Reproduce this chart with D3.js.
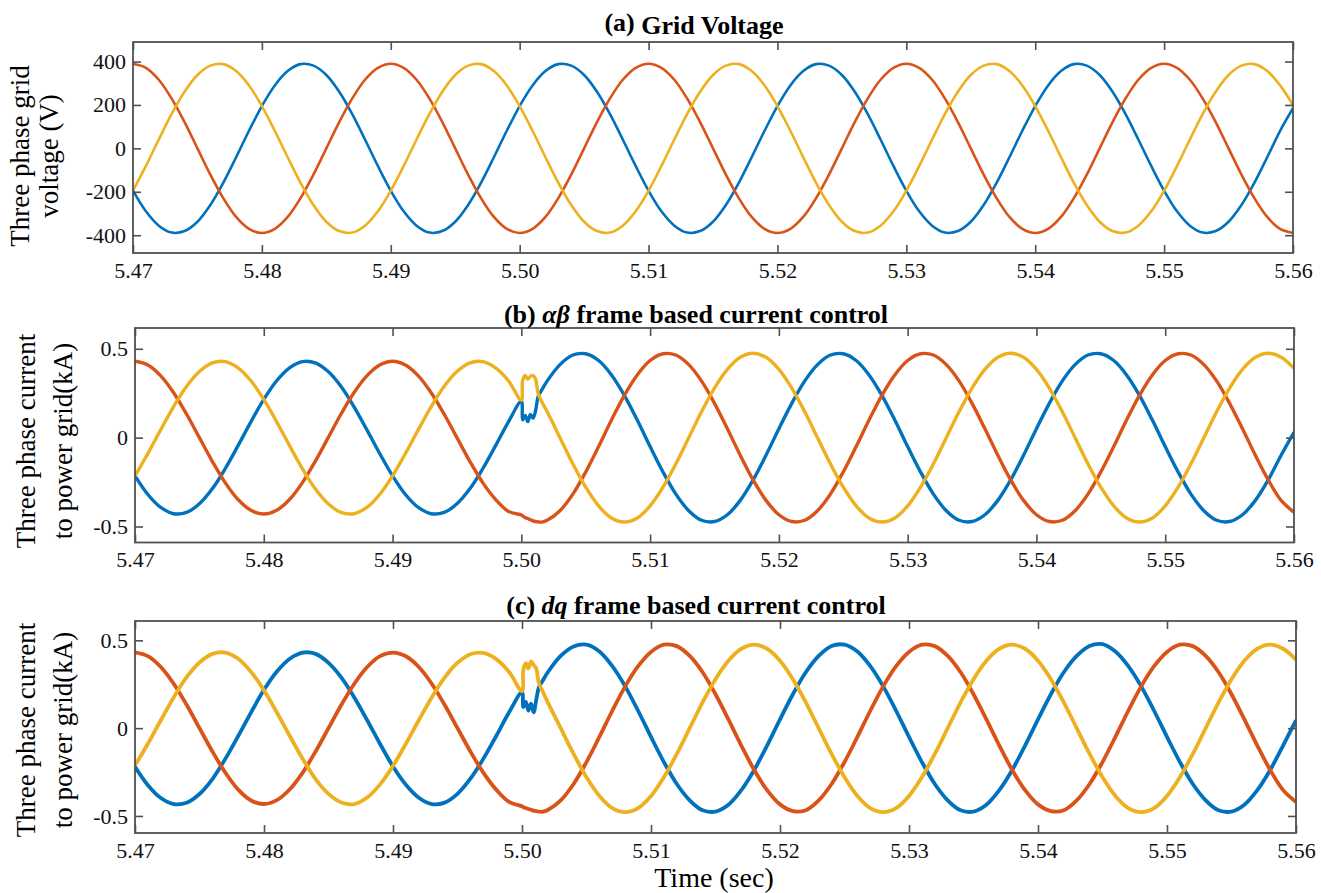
<!DOCTYPE html>
<html>
<head>
<meta charset="utf-8">
<script src="https://cdn.jsdelivr.net/npm/d3@7"></script>
<style>
body{margin:0;background:#fff;}
svg{display:block;font-family:'Times New Roman','Liberation Serif',Tinos,Times,serif;}
svg text{font-family:'Times New Roman','Liberation Serif',Tinos,Times,serif;}
</style>
</head>
<body>
<div id="chart"></div>
<script>
// ---- data ----
var xTicks = [5.47,5.48,5.49,5.50,5.51,5.52,5.53,5.54,5.55,5.56];
var voltTicks = [-400,-200,0,200,400];
var curTicks = [-0.5,0,0.5];

// sample times, grid voltage
var timeV = [5.470,5.471,5.472,5.473,5.474,5.475,5.476,5.477,5.478,5.479,
  5.480,5.481,5.482,5.483,5.484,5.485,5.486,5.487,5.488,5.489,
  5.490,5.491,5.492,5.493,5.494,5.495,5.496,5.497,5.498,5.499,
  5.500,5.501,5.502,5.503,5.504,5.505,5.506,5.507,5.508,5.509,
  5.510,5.511,5.512,5.513,5.514,5.515,5.516,5.517,5.518,5.519,
  5.520,5.521,5.522,5.523,5.524,5.525,5.526,5.527,5.528,5.529,
  5.530,5.531,5.532,5.533,5.534,5.535,5.536,5.537,5.538,5.539,
  5.540,5.541,5.542,5.543,5.544,5.545,5.546,5.547,5.548,5.549,
  5.550,5.551,5.552,5.553,5.554,5.555,5.556,5.557,5.558,5.559,5.560];

var voltBlue = [-195,-290,-356,-388,-381,-338,-261,-159,-41,81,195,290,356,388,381,338,261,159,41,-81,
  -195,-290,-356,-388,-381,-338,-261,-159,-41,81,195,290,356,388,381,338,261,159,41,-81,
  -195,-290,-356,-388,-381,-338,-261,-159,-41,81,195,290,356,388,381,338,261,159,41,-81,
  -195,-290,-356,-388,-381,-338,-261,-159,-41,81,195,290,356,388,381,338,261,159,41,-81,
  -195,-290,-356,-388,-381,-338,-261,-159,-41,81,185];
var voltRed = [390,371,316,229,121,0,-121,-229,-316,-371,-390,-371,-316,-229,-121,0,121,229,316,371,
  390,371,316,229,121,0,-121,-229,-316,-371,-390,-371,-316,-229,-121,0,121,229,316,371,
  390,371,316,229,121,0,-121,-229,-316,-371,-390,-371,-316,-229,-121,0,121,229,316,371,
  390,371,316,229,121,0,-121,-229,-316,-371,-390,-371,-316,-229,-121,0,121,229,316,371,
  390,371,316,229,121,0,-121,-229,-316,-371,-390];
var voltYellow = [-195,-81,41,159,261,338,381,388,356,290,195,81,-41,-159,-261,-338,-381,-388,-356,-290,
  -195,-81,41,159,261,338,381,388,356,290,195,81,-41,-159,-261,-338,-381,-388,-356,-290,
  -195,-81,41,159,261,338,381,388,356,290,195,81,-41,-159,-261,-338,-381,-388,-356,-290,
  -195,-81,41,159,261,338,381,388,356,290,195,81,-41,-159,-261,-338,-381,-388,-356,-290,
  -195,-81,41,159,261,338,381,388,356,290,200];

// sample times, currents (denser around the step at 5.50)
var timeI = [5.470,5.471,5.472,5.473,5.474,5.475,5.476,5.477,5.478,5.479,
  5.480,5.481,5.482,5.483,5.484,5.485,5.486,5.487,5.488,5.489,
  5.490,5.491,5.492,5.493,5.494,5.495,5.496,5.497,5.498,5.499,5.500,
  5.5001,5.5003,5.5005,5.5007,5.5009,5.5011,5.5013,5.5016,
  5.502,5.503,5.504,5.505,5.506,5.507,5.508,5.509,
  5.510,5.511,5.512,5.513,5.514,5.515,5.516,5.517,5.518,5.519,
  5.520,5.521,5.522,5.523,5.524,5.525,5.526,5.527,5.528,5.529,
  5.530,5.531,5.532,5.533,5.534,5.535,5.536,5.537,5.538,5.539,
  5.540,5.541,5.542,5.543,5.544,5.545,5.546,5.547,5.548,5.549,
  5.550,5.551,5.552,5.553,5.554,5.555,5.556,5.557,5.558,5.559,5.560];

// (b) alpha-beta frame
var abBlue = [-0.215,-0.320,-0.393,-0.428,-0.421,-0.372,-0.288,-0.175,-0.045,0.089,
  0.215,0.320,0.393,0.428,0.421,0.372,0.288,0.175,0.045,-0.089,
  -0.215,-0.320,-0.393,-0.428,-0.421,-0.372,-0.288,-0.175,-0.045,0.089,0.205,
  0.10,0.125,0.09,0.13,0.11,0.15,0.23,0.27,
  0.318,0.411,0.465,0.472,0.434,0.353,0.238,0.099,
  -0.050,-0.193,-0.318,-0.411,-0.465,-0.472,-0.434,-0.353,-0.238,-0.099,0.050,0.193,0.318,0.411,0.465,0.472,0.434,0.353,0.238,0.099,
  -0.050,-0.193,-0.318,-0.411,-0.465,-0.472,-0.434,-0.353,-0.238,-0.099,0.050,0.193,0.318,0.411,0.465,0.472,0.434,0.353,0.238,0.099,
  -0.050,-0.193,-0.318,-0.411,-0.465,-0.472,-0.434,-0.353,-0.238,-0.099,0.030];
var abRed = [0.430,0.409,0.348,0.253,0.133,0,-0.133,-0.253,-0.348,-0.409,
  -0.430,-0.409,-0.348,-0.253,-0.133,0,0.133,0.253,0.348,0.409,
  0.430,0.409,0.348,0.253,0.133,0,-0.133,-0.253,-0.348,-0.415,-0.435,
  -0.44,-0.45,-0.455,-0.462,-0.468,-0.472,-0.474,-0.475,
  -0.465,-0.411,-0.318,-0.193,-0.050,0.099,0.238,0.353,
  0.434,0.472,0.465,0.411,0.318,0.193,0.050,-0.099,-0.238,-0.353,-0.434,-0.472,-0.465,-0.411,-0.318,-0.193,-0.050,0.099,0.238,0.353,
  0.434,0.472,0.465,0.411,0.318,0.193,0.050,-0.099,-0.238,-0.353,-0.434,-0.472,-0.465,-0.411,-0.318,-0.193,-0.050,0.099,0.238,0.353,
  0.434,0.472,0.465,0.411,0.318,0.193,0.050,-0.099,-0.238,-0.353,-0.420];
var abYellow = [-0.215,-0.089,0.045,0.175,0.288,0.372,0.421,0.428,0.393,0.320,
  0.215,0.089,-0.045,-0.175,-0.288,-0.372,-0.421,-0.428,-0.393,-0.320,
  -0.215,-0.089,0.045,0.175,0.288,0.372,0.421,0.428,0.393,0.320,0.210,
  0.32,0.35,0.33,0.345,0.35,0.33,0.25,0.20,
  0.147,0,-0.147,-0.279,-0.384,-0.452,-0.475,-0.452,
  -0.384,-0.279,-0.147,0,0.147,0.279,0.384,0.452,0.475,0.452,0.384,0.279,0.147,0,-0.147,-0.279,-0.384,-0.452,-0.475,-0.452,
  -0.384,-0.279,-0.147,0,0.147,0.279,0.384,0.452,0.475,0.452,0.384,0.279,0.147,0,-0.147,-0.279,-0.384,-0.452,-0.475,-0.452,
  -0.384,-0.279,-0.147,0,0.147,0.279,0.384,0.452,0.475,0.452,0.390];

// (c) dq frame
var dqBlue = [-0.220,-0.325,-0.398,-0.432,-0.425,-0.375,-0.290,-0.175,-0.045,0.090,
  0.218,0.322,0.395,0.430,0.423,0.372,0.288,0.175,0.045,-0.090,
  -0.218,-0.322,-0.396,-0.432,-0.424,-0.374,-0.288,-0.175,-0.045,0.090,0.205,
  0.12,0.15,0.10,0.14,0.09,0.16,0.23,0.27,
  0.318,0.411,0.465,0.475,0.436,0.353,0.238,0.099,
  -0.050,-0.193,-0.318,-0.411,-0.468,-0.475,-0.436,-0.353,-0.238,-0.099,0.050,0.193,0.318,0.411,0.468,0.475,0.436,0.353,0.238,0.099,
  -0.050,-0.193,-0.318,-0.411,-0.468,-0.475,-0.436,-0.353,-0.238,-0.099,0.050,0.193,0.318,0.411,0.468,0.478,0.436,0.353,0.238,0.099,
  -0.050,-0.193,-0.318,-0.411,-0.468,-0.475,-0.436,-0.353,-0.238,-0.099,0.045];
var dqRed = [0.432,0.410,0.348,0.253,0.133,0,-0.133,-0.253,-0.350,-0.412,
  -0.432,-0.410,-0.348,-0.253,-0.133,0,0.133,0.253,0.348,0.410,
  0.430,0.409,0.348,0.253,0.133,0,-0.133,-0.253,-0.350,-0.420,-0.445,
  -0.45,-0.455,-0.46,-0.465,-0.47,-0.473,-0.475,-0.476,
  -0.466,-0.411,-0.318,-0.193,-0.050,0.099,0.238,0.353,
  0.434,0.475,0.467,0.411,0.318,0.193,0.050,-0.099,-0.238,-0.353,-0.434,-0.472,-0.467,-0.411,-0.318,-0.193,-0.050,0.099,0.238,0.353,
  0.434,0.475,0.467,0.411,0.318,0.193,0.050,-0.099,-0.238,-0.353,-0.434,-0.472,-0.467,-0.411,-0.318,-0.193,-0.050,0.099,0.238,0.353,
  0.434,0.475,0.467,0.411,0.318,0.193,0.050,-0.099,-0.238,-0.353,-0.420];
var dqYellow = [-0.212,-0.089,0.045,0.175,0.290,0.374,0.423,0.430,0.395,0.320,
  0.215,0.089,-0.045,-0.175,-0.290,-0.374,-0.423,-0.432,-0.395,-0.320,
  -0.215,-0.089,0.045,0.175,0.288,0.372,0.421,0.428,0.393,0.320,0.210,
  0.33,0.37,0.34,0.38,0.36,0.34,0.26,0.21,
  0.147,0,-0.147,-0.279,-0.386,-0.455,-0.478,-0.455,
  -0.386,-0.279,-0.147,0,0.147,0.279,0.384,0.452,0.475,0.452,0.384,0.279,0.147,0,-0.147,-0.279,-0.386,-0.455,-0.478,-0.455,
  -0.386,-0.279,-0.147,0,0.147,0.279,0.384,0.452,0.475,0.452,0.384,0.279,0.147,0,-0.147,-0.279,-0.386,-0.455,-0.478,-0.455,
  -0.386,-0.279,-0.147,0,0.147,0.279,0.384,0.452,0.475,0.452,0.390];

// ---- drawing ----
var width = 1321,
    height = 893;
var blue = "#0072BD", red = "#D95319", yellow = "#EDB120";
var axisCol = "#505050";
var serif = "'Times New Roman','Liberation Serif',Tinos,Times,serif";

var svg = d3.select("#chart")
    .append("svg")
    .attr("width", width)
    .attr("height", height);

var clipId = 0;

function draw_panel(p){
  var x = d3.scaleLinear().domain([5.47, 5.56]).range([p.left, p.right]);
  var y = d3.scaleLinear().domain(p.ydom).range([p.bottom, p.top]);
  var g = svg.append("g");

  clipId++;
  g.append("clipPath").attr("id", "clip" + clipId)
    .append("rect")
    .attr("x", p.left).attr("y", p.top)
    .attr("width", p.right - p.left).attr("height", p.bottom - p.top);

  var line = d3.line()
      .x(function(d, i){ return x(p.time[i]); })
      .y(function(d){ return y(d); })
      .curve(d3.curveCatmullRom.alpha(0.5));

  var gl = g.append("g").attr("clip-path", "url(#clip" + clipId + ")");
  p.series.forEach(function(s){
    gl.append("path")
      .datum(s.values)
      .attr("fill", "none")
      .attr("stroke", s.color)
      .attr("stroke-width", p.lw)
      .attr("stroke-linejoin", "round")
      .attr("d", line);
  });

  var fmtY = function(d){ return String(d); };

  var ax = [
    g.append("g").attr("transform", "translate(0," + p.bottom + ")")
      .call(d3.axisBottom(x).tickValues(xTicks).tickSize(-8).tickPadding(9).tickFormat(d3.format(".2f"))),
    g.append("g").attr("transform", "translate(0," + p.top + ")")
      .call(d3.axisTop(x).tickValues(xTicks).tickSize(-8).tickFormat("")),
    g.append("g").attr("transform", "translate(" + p.left + ",0)")
      .call(d3.axisLeft(y).tickValues(p.yticks).tickSize(-8).tickPadding(7).tickFormat(fmtY)),
    g.append("g").attr("transform", "translate(" + p.right + ",0)")
      .call(d3.axisRight(y).tickValues(p.yticks).tickSize(-8).tickFormat(""))
  ];
  ax.forEach(function(a){
    a.attr("font-family", null).attr("font-size", 22);
    a.select(".domain").remove();
    a.selectAll("line").attr("stroke", axisCol).attr("stroke-width", 1.6);
    a.selectAll("text").attr("fill", "#111").style("font-family", serif);
  });

  g.append("rect")
    .attr("x", p.left).attr("y", p.top)
    .attr("width", p.right - p.left).attr("height", p.bottom - p.top)
    .attr("fill", "none")
    .attr("stroke", axisCol)
    .attr("stroke-width", 1.8);

  // title
  var t = g.append("text")
    .attr("x", p.titleX).attr("y", p.titleY)
    .attr("text-anchor", "middle")
    .attr("font-size", 26)
    .attr("font-weight", "bold")
    .attr("fill", "#000");
  p.title.forEach(function(part){
    var ts = t.append("tspan").text(part.s);
    if (part.it) ts.attr("font-style", "italic");
    if (part.dy) ts.attr("dy", part.dy);
  });

  // y label, two lines
  p.ylab.forEach(function(txt, i){
    g.append("text")
      .attr("transform", "translate(" + p.ylabX[i] + "," + p.ylabY + ") rotate(-90)")
      .attr("text-anchor", "middle")
      .attr("font-size", 27)
      .attr("fill", "#000")
      .text(txt);
  });
}

draw_panel({
  left: 133, right: 1293, top: 42, bottom: 253,
  ydom: [-482, 490], yticks: voltTicks,
  time: timeV, lw: 2.6,
  series: [{values: voltBlue, color: blue}, {values: voltRed, color: red}, {values: voltYellow, color: yellow}],
  title: [{s: "(a)", dy: -3}, {s: " Grid Voltage", dy: 3}],
  titleX: 694, titleY: 34,
  ylab: ["Three phase grid", "voltage (V)"], ylabX: [29, 58], ylabY: 156
});

draw_panel({
  left: 135, right: 1294, top: 328, bottom: 542.5,
  ydom: [-0.59, 0.617], yticks: curTicks,
  time: timeI, lw: 3.4,
  series: [{values: abBlue, color: blue}, {values: abRed, color: red}, {values: abYellow, color: yellow}],
  title: [{s: "(b) "}, {s: "αβ", it: true}, {s: " frame based current control"}],
  titleX: 696, titleY: 323,
  ylab: ["Three phase current", "to power grid(kA)"], ylabX: [35, 72], ylabY: 441
});

draw_panel({
  left: 135, right: 1296, top: 621, bottom: 833,
  ydom: [-0.597, 0.61], yticks: curTicks,
  time: timeI, lw: 3.8,
  series: [{values: dqBlue, color: blue}, {values: dqRed, color: red}, {values: dqYellow, color: yellow}],
  title: [{s: "(c) "}, {s: "dq", it: true}, {s: " frame based current control"}],
  titleX: 696, titleY: 614,
  ylab: ["Three phase current", "to power grid(kA)"], ylabX: [35, 72], ylabY: 730
});

svg.append("text")
  .attr("x", 714).attr("y", 887)
  .attr("text-anchor", "middle")
  .attr("font-size", 28)
  .attr("fill", "#000")
  .text("Time (sec)");
</script>
</body>
</html>
